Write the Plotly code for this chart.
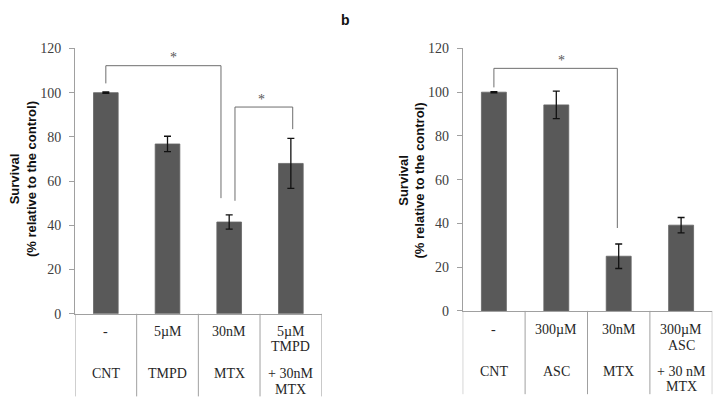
import plotly.graph_objects as go

W, H = 713, 415

# ---------------- data ----------------
left_cats = ["CNT", "TMPD", "MTX", "TMPD+MTX"]
left_vals = [100, 76.8, 41.5, 68.0]
left_err = [0.3, 3.5, 3.2, 11.3]
left_row1 = [["-"], ["5µM"], ["30nM"], ["5µM", "TMPD"]]
left_row2 = [["CNT"], ["TMPD"], ["MTX"], ["+ 30nM", "MTX"]]

right_cats = ["CNT", "ASC", "MTX", "ASC+MTX"]
right_vals = [100, 94.2, 25.0, 39.2]
right_err = [0.3, 6.3, 5.6, 3.5]
right_row1 = [["-"], ["300µM"], ["30nM"], ["300µM", "ASC"]]
right_row2 = [["CNT"], ["ASC"], ["MTX"], ["+ 30 nM", "MTX"]]

y_ticks = [0, 20, 40, 60, 80, 100, 120]
y_title = "Survival<br>(% relative to the control)"

# ---------------- style ----------------
BAR = "#595959"
AXC = "#a0a0a0"
TXT = "#262626"
SERIF = "Liberation Serif"
SANS = "Liberation Sans"


def px_x(p):
    return p / W


def px_y(p):
    return 1 - p / H


panels = [
    dict(cats=left_cats, vals=left_vals, err=left_err, r1=left_row1, r2=left_row2,
         x0=75, x1=321.7, ybot=318.3, ytop=43, table_bot=404,
         r1y=[336.7, 352.7], r2y=[380, 396.7], title_x=22.5, title_y=179,
         brackets=[(0, 1.867, 112.2, 104.2, 52.3), (2.094, 3.03, 93.5, 51.1, 83.5)],
         stars=[(1.105, 116.0), (2.516, 97.0)]),
    dict(cats=right_cats, vals=right_vals, err=right_err, r1=right_row1, r2=right_row2,
         x0=462.7, x1=712.3, ybot=315.3, ytop=43, table_bot=401.7,
         r1y=[334.3, 350.7], r2y=[377.7, 394], title_x=412, title_y=180,
         brackets=[(0, 1.978, 110.9, 102.2, 37.9)],
         stars=[(1.087, 114.7)]),
]

fig = go.Figure()
shapes = []
annotations = []

for k, p in enumerate(panels):
    xa = "x" if k == 0 else "x2"
    ya = "y" if k == 0 else "y2"
    fig.add_trace(go.Bar(
        x=list(range(len(p["cats"]))), y=p["vals"], width=0.4,
        marker=dict(color=BAR, line=dict(color="#666666", width=0.8)),
        error_y=dict(type="data", array=p["err"], visible=True,
                     color="#111111", thickness=1.3, width=3.5),
        xaxis=xa, yaxis=ya, showlegend=False, hovertext=p["cats"],
    ))
    xkey = "xaxis" if k == 0 else "xaxis2"
    ykey = "yaxis" if k == 0 else "yaxis2"
    fig.update_layout(**{
        xkey: dict(domain=[px_x(p["x0"]), px_x(p["x1"])], range=[-0.5, 3.5],
                   showline=True, linecolor=AXC, linewidth=1, showticklabels=False,
                   ticks="", showgrid=False, zeroline=False, anchor=ya, fixedrange=True),
        ykey: dict(domain=[px_y(p["ybot"]), px_y(p["ytop"])], range=[0, 120],
                   tickvals=y_ticks, ticks="outside", ticklen=5, tickcolor=AXC,
                   showline=True, linecolor=AXC, linewidth=1, showgrid=False,
                   zeroline=False, anchor=xa, ticklabelstandoff=5,
                   tickfont=dict(family=SERIF, size=14, color="#404040")),
    })
    n = len(p["cats"])
    # table vertical lines
    for i in range(n + 1):
        shapes.append(dict(type="line", xref=xa, yref="paper",
                           x0=i - 0.5, x1=i - 0.5,
                           y0=px_y(p["ybot"]), y1=px_y(p["table_bot"]),
                           line=dict(color=AXC, width=1)))
    # table text
    for rows, ys in ((p["r1"], p["r1y"]), (p["r2"], p["r2y"])):
        for i, lines in enumerate(rows):
            for j, t in enumerate(lines):
                annotations.append(dict(xref=xa, yref="paper", x=i, y=px_y(ys[j]),
                                        text=t, showarrow=False, xanchor="center",
                                        yanchor="middle",
                                        font=dict(family=SERIF, size=14, color=TXT)))
    # significance brackets
    for (bx0, bx1, top, l0, l1) in p["brackets"]:
        lc = dict(color="#6e6e6e", width=1)
        shapes.append(dict(type="line", xref=xa, yref=ya, x0=bx0, x1=bx1, y0=top, y1=top, line=lc))
        shapes.append(dict(type="line", xref=xa, yref=ya, x0=bx0, x1=bx0, y0=top, y1=l0, line=lc))
        shapes.append(dict(type="line", xref=xa, yref=ya, x0=bx1, x1=bx1, y0=top, y1=l1, line=lc))
    for (sx, sy) in p["stars"]:
        annotations.append(dict(xref=xa, yref=ya, x=sx, y=sy, text="*", showarrow=False,
                                xanchor="center", yanchor="middle",
                                font=dict(family=SERIF, size=14, color="#555555")))
    # y title
    annotations.append(dict(xref="paper", yref="paper", x=px_x(p["title_x"]), y=px_y(p["title_y"]),
                            text=y_title, showarrow=False, textangle=-90,
                            xanchor="center", yanchor="middle",
                            font=dict(family=SANS, size=13, color="#111111", weight="bold")))

annotations.append(dict(xref="paper", yref="paper", x=px_x(345.7), y=px_y(13.5), text="<b>b</b>",
                        showarrow=False, xanchor="center", yanchor="middle",
                        font=dict(family=SANS, size=14, color="#111111")))

fig.update_layout(width=W, height=H, margin=dict(l=0, r=0, t=0, b=0),
                  paper_bgcolor="white", plot_bgcolor="white",
                  shapes=shapes, annotations=annotations, bargap=0.6)

fig.write_html("out.html")
